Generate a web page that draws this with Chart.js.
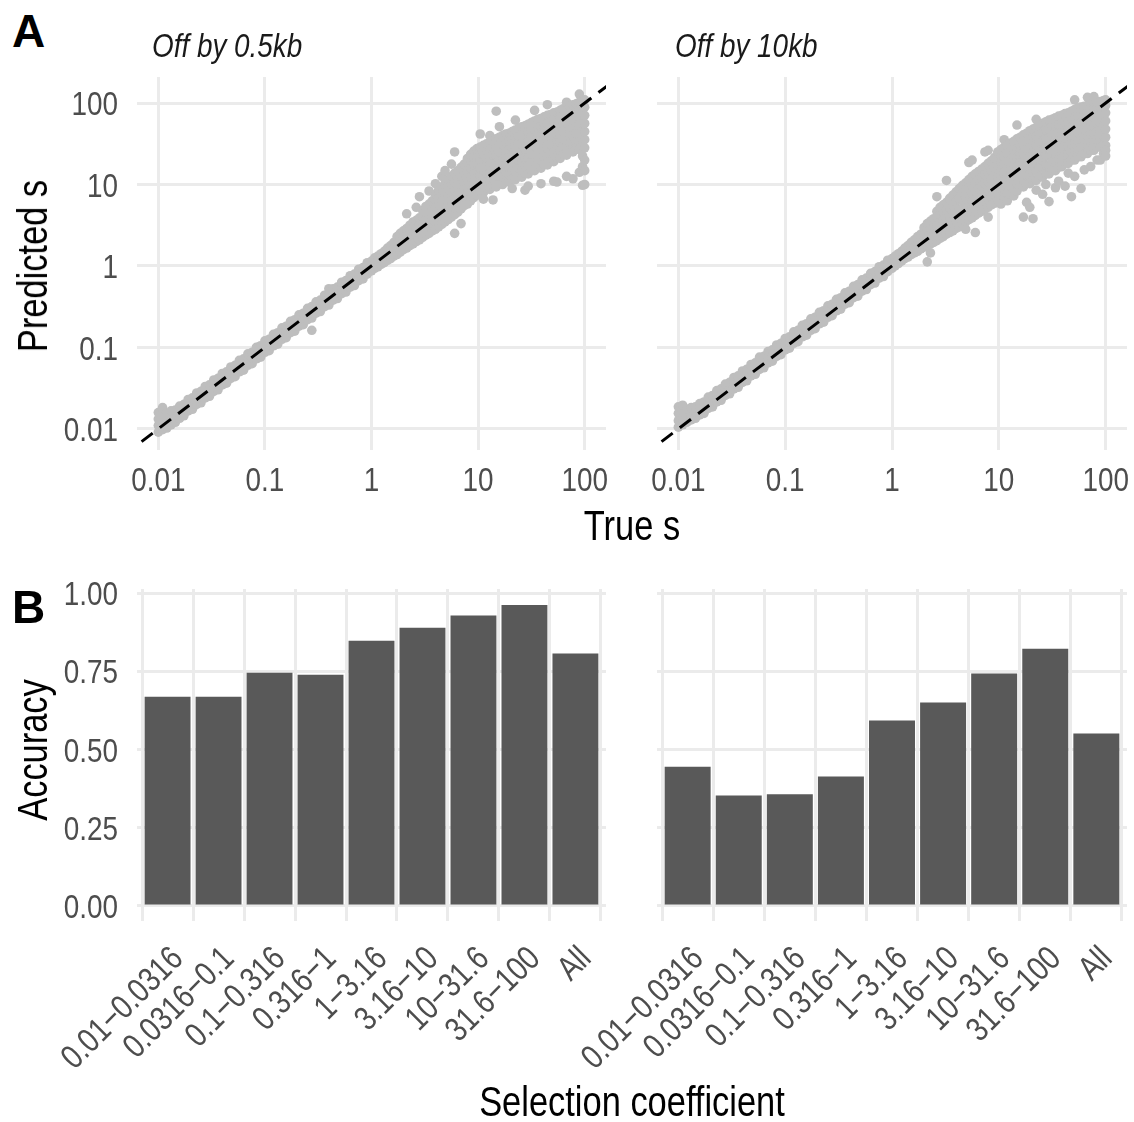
<!DOCTYPE html>
<html>
<head>
<meta charset="utf-8">
<script src="https://cdn.jsdelivr.net/npm/chart.js@4.4.1/dist/chart.umd.min.js"></script>
<style>
  body { margin: 0; background: #fff; width: 1134px; height: 1122px; position: relative; overflow: hidden;
         font-family: "Liberation Sans", Arial, sans-serif; }
  canvas { position: absolute; }
  .t { position: absolute; white-space: nowrap; line-height: 1; color: #000; }
  .tag { font-weight: bold; font-size: 46px; left: 12px; }
  .ttl { font-style: italic; font-size: 34px; color: #1a1a1a; top: 28px; transform-origin: 0 50%; transform: scaleX(0.82); }
  .ax { font-size: 42px; }
</style>
</head>
<body>
<canvas id="scatter05" width="650" height="480" style="left:0;top:60px"></canvas>
<canvas id="scatter10" width="534" height="480" style="left:600px;top:60px"></canvas>
<canvas id="bar05" width="650" height="552" style="left:0;top:570px"></canvas>
<canvas id="bar10" width="614" height="552" style="left:520px;top:570px"></canvas>

<div class="t tag" style="top:8px">A</div>
<div class="t tag" style="top:584px">B</div>
<div class="t ttl" style="left:152px">Off by 0.5kb</div>
<div class="t ttl" style="left:675px">Off by 10kb</div>
<div class="t ax" style="left:632px;top:505px;transform:translateX(-50%) scaleX(0.82)">True s</div>
<div class="t ax" style="left:632px;top:1081px;transform:translateX(-50%) scaleX(0.82)">Selection coefficient</div>
<div class="t ax" style="left:33px;top:266px;transform:translate(-50%,-50%) rotate(-90deg) scaleX(0.82)">Predicted s</div>
<div class="t ax" style="left:33px;top:750px;transform:translate(-50%,-50%) rotate(-90deg) scaleX(0.82)">Accuracy</div>

<script>
// tick labels
const sTicks = [0.01, 0.1, 1, 10, 100];
const accTicks = [0, 0.25, 0.5, 0.75, 1];

// selection coefficient bins (bar categories)
const bins = ['0.01\u22120.0316', '0.0316\u22120.1', '0.1\u22120.316', '0.316\u22121',
  '1\u22123.16', '3.16\u221210', '10\u221231.6', '31.6\u2212100', 'All'];

// accuracy per bin
const acc05 = [0.669, 0.669, 0.745, 0.739, 0.848, 0.889, 0.928, 0.962, 0.807];
const acc10 = [0.445, 0.353, 0.357, 0.414, 0.593, 0.650, 0.743, 0.822, 0.551];

// scatter points, one row per true s:
// [log10 true s, log10 predicted s, log10 predicted s, ...]
const rows05 = [
  [-2.00,-2.04,-1.96,-1.88,-1.80],[-1.96,-2.01,-1.92,-1.83,-1.74],[-1.92,-1.99,-1.90,-1.81],[-1.88,-1.95,-1.87,-1.78],
  [-1.84,-1.92,-1.84,-1.77],[-1.80,-1.87,-1.80,-1.72],[-1.76,-1.84,-1.77,-1.70],[-1.72,-1.78,-1.71,-1.64],
  [-1.68,-1.76,-1.69,-1.62],[-1.64,-1.70,-1.63,-1.56],[-1.60,-1.68,-1.61,-1.54],[-1.56,-1.62,-1.55,-1.48],
  [-1.52,-1.60,-1.53,-1.46],[-1.48,-1.54,-1.47,-1.40],[-1.44,-1.52,-1.45,-1.38],[-1.40,-1.46,-1.39,-1.32],
  [-1.36,-1.44,-1.37,-1.30],[-1.32,-1.38,-1.31,-1.24],[-1.28,-1.36,-1.29,-1.22],[-1.24,-1.30,-1.23,-1.16],
  [-1.20,-1.28,-1.21,-1.14],[-1.16,-1.22,-1.15,-1.08],[-1.12,-1.20,-1.13,-1.06],[-1.08,-1.14,-1.07,-1.00],
  [-1.04,-1.12,-1.05,-0.98],[-1.00,-1.06,-0.99,-0.92],[-0.96,-1.04,-0.97,-0.90],[-0.92,-0.98,-0.91,-0.84],
  [-0.88,-0.96,-0.89,-0.82],[-0.84,-0.90,-0.83,-0.76],[-0.80,-0.88,-0.81,-0.74],[-0.76,-0.82,-0.75,-0.68],
  [-0.72,-0.80,-0.73,-0.66],[-0.68,-0.74,-0.67,-0.60],[-0.64,-0.72,-0.65,-0.58],[-0.60,-0.66,-0.59,-0.52],
  [-0.56,-0.64,-0.57,-0.50,-0.79],[-0.52,-0.58,-0.51,-0.44],[-0.48,-0.56,-0.49,-0.42],[-0.44,-0.50,-0.43,-0.36],
  [-0.40,-0.48,-0.41,-0.34,-0.28],[-0.36,-0.42,-0.35,-0.28],[-0.32,-0.40,-0.33,-0.26],[-0.28,-0.34,-0.27,-0.20],
  [-0.24,-0.32,-0.25,-0.18],[-0.20,-0.26,-0.19,-0.12],[-0.16,-0.24,-0.17,-0.10],[-0.12,-0.18,-0.11,-0.04],
  [-0.08,-0.16,-0.09,-0.02],[-0.04,-0.10,-0.03,0.04],
  [0.00,-0.06,0.00,0.06],[0.03,-0.03,0.04,0.10],[0.06,-0.01,0.06,0.12],[0.09,0.02,0.09,0.15],[0.12,0.04,0.11,0.18],
  [0.15,0.07,0.14,0.22],[0.18,0.09,0.17,0.25],[0.21,0.12,0.20,0.29],[0.24,0.14,0.22,0.30,0.36],
  [0.27,0.17,0.25,0.33,0.40],[0.30,0.20,0.28,0.36,0.43],[0.33,0.22,0.30,0.38,0.46,0.64],[0.36,0.25,0.33,0.42,0.50],
  [0.39,0.27,0.36,0.45,0.54],[0.42,0.30,0.38,0.47,0.56,0.72],[0.45,0.32,0.41,0.50,0.59,0.85],
  [0.48,0.35,0.43,0.52,0.61,0.68],[0.51,0.38,0.47,0.56,0.65,0.73],[0.54,0.40,0.49,0.58,0.67,0.76,0.92],
  [0.57,0.43,0.52,0.61,0.70,0.80],[0.60,0.45,0.54,0.63,0.72,0.81,0.88,1.01],[0.63,0.48,0.57,0.66,0.75,0.84,0.93],
  [0.66,0.51,0.60,0.69,0.78,0.87,0.97,1.10],[0.69,0.54,0.63,0.72,0.82,0.91,1.02,1.17],
  [0.72,0.57,0.66,0.76,0.86,0.96,1.06],[0.75,0.60,0.70,0.80,0.90,1.00,1.10,1.25],
  [0.78,0.40,0.63,0.73,0.83,0.93,1.03,1.14,1.40],[0.81,0.66,0.76,0.86,0.96,1.06,1.17],
  [0.84,0.52,0.70,0.80,0.90,1.00,1.10,1.21],[0.87,0.74,0.84,0.94,1.04,1.14,1.25],
  [0.90,0.76,0.86,0.96,1.06,1.16,1.26,1.32],[0.93,0.80,0.90,1.00,1.10,1.20,1.30,1.37],
  [0.96,0.84,0.94,1.04,1.14,1.24,1.34,1.41],
  [0.99,0.87,0.96,1.06,1.15,1.25,1.34,1.44],[1.02,0.92,1.01,1.11,1.20,1.30,1.39,1.46,1.62],
  [1.05,0.90,0.99,1.09,1.18,1.28,1.38,1.48,0.82],[1.08,0.95,1.04,1.14,1.23,1.33,1.42,1.50],
  [1.11,0.94,1.03,1.13,1.23,1.32,1.42,1.52,1.60],[1.14,0.98,1.08,1.17,1.27,1.36,1.46,1.54,0.81],
  [1.17,0.97,1.07,1.16,1.26,1.36,1.46,1.56,1.90],[1.20,1.01,1.11,1.20,1.30,1.40,1.49,1.58,1.71],
  [1.23,1.00,1.10,1.20,1.29,1.39,1.49,1.60],[1.26,1.04,1.14,1.24,1.33,1.43,1.53,1.62],
  [1.29,1.03,1.13,1.23,1.33,1.43,1.53,1.63],[1.32,1.07,1.17,1.27,1.37,1.46,1.56,1.65,0.95],
  [1.35,1.06,1.16,1.26,1.36,1.46,1.57,1.67,1.79],[1.38,1.10,1.20,1.30,1.40,1.50,1.60,1.69],
  [1.41,1.09,1.19,1.29,1.39,1.50,1.60,1.71],[1.44,1.14,1.24,1.34,1.44,1.54,1.64,1.72,0.93],
  [1.47,1.13,1.23,1.33,1.44,1.54,1.64,1.74,0.98],[1.50,1.18,1.28,1.38,1.48,1.58,1.68,1.76],
  [1.53,1.17,1.27,1.37,1.48,1.58,1.68,1.78,1.91],[1.56,1.21,1.31,1.41,1.51,1.61,1.71,1.80],
  [1.59,1.20,1.30,1.40,1.51,1.61,1.71,1.81,1.01],[1.62,1.25,1.35,1.45,1.55,1.65,1.75,1.83],
  [1.65,1.24,1.34,1.45,1.55,1.65,1.75,1.85,1.98],[1.68,1.29,1.39,1.49,1.59,1.69,1.78,1.86],
  [1.71,1.28,1.38,1.48,1.58,1.68,1.78,1.88,1.04],[1.74,1.33,1.43,1.53,1.62,1.72,1.81,1.89,1.03],
  [1.77,1.32,1.42,1.52,1.62,1.72,1.82,1.91],[1.80,1.37,1.47,1.56,1.66,1.75,1.85,1.93],
  [1.83,1.36,1.46,1.56,1.66,1.76,1.86,1.94,2.01,1.10],[1.86,1.41,1.50,1.60,1.69,1.79,1.88,1.96],
  [1.89,1.40,1.50,1.60,1.70,1.80,1.90,1.98,1.07],[1.92,1.44,1.53,1.63,1.72,1.82,1.91,1.99],
  [1.95,1.43,1.53,1.63,1.73,1.83,1.93,2.01,2.11,1.15],[1.98,1.47,1.56,1.66,1.75,1.85,1.94,2.03,0.99,1.22,1.35],
  [2.00,1.45,1.55,1.65,1.75,1.85,1.95,2.04,1.00,1.17,1.30]
];

const rows10 = [
  [-2.00,-1.98,-1.90,-1.81,-1.73],[-1.96,-1.95,-1.87,-1.79,-1.71],[-1.92,-1.92,-1.84,-1.76],[-1.88,-1.89,-1.82,-1.74],
  [-1.84,-1.87,-1.80,-1.73],[-1.80,-1.83,-1.76,-1.69],[-1.76,-1.81,-1.74,-1.67],[-1.72,-1.75,-1.68,-1.61],
  [-1.68,-1.73,-1.66,-1.59],[-1.64,-1.67,-1.60,-1.53],[-1.60,-1.65,-1.58,-1.51],[-1.56,-1.59,-1.52,-1.45],
  [-1.52,-1.57,-1.50,-1.43],[-1.48,-1.51,-1.44,-1.37],[-1.44,-1.49,-1.42,-1.35],[-1.40,-1.43,-1.36,-1.29],
  [-1.36,-1.41,-1.34,-1.27],[-1.32,-1.35,-1.28,-1.21],[-1.28,-1.33,-1.26,-1.19],[-1.24,-1.27,-1.20,-1.12],
  [-1.20,-1.25,-1.18,-1.11],[-1.16,-1.19,-1.12,-1.05],[-1.12,-1.17,-1.10,-1.03],[-1.08,-1.11,-1.04,-0.97],
  [-1.04,-1.09,-1.02,-0.95],[-1.00,-1.03,-0.96,-0.89],[-0.96,-1.01,-0.94,-0.87],[-0.92,-0.95,-0.88,-0.81],
  [-0.88,-0.93,-0.86,-0.79],[-0.84,-0.87,-0.80,-0.73],[-0.80,-0.85,-0.78,-0.71],[-0.76,-0.79,-0.72,-0.65],
  [-0.72,-0.77,-0.70,-0.63],[-0.68,-0.71,-0.64,-0.57],[-0.64,-0.69,-0.62,-0.55],[-0.60,-0.63,-0.56,-0.49],
  [-0.56,-0.61,-0.54,-0.47],[-0.52,-0.55,-0.48,-0.41],[-0.48,-0.53,-0.46,-0.39],[-0.44,-0.47,-0.40,-0.33],
  [-0.40,-0.45,-0.38,-0.31],[-0.36,-0.39,-0.32,-0.25],[-0.32,-0.37,-0.30,-0.23],[-0.28,-0.31,-0.24,-0.17],
  [-0.24,-0.29,-0.22,-0.15],[-0.20,-0.23,-0.16,-0.09],[-0.16,-0.21,-0.14,-0.07],[-0.12,-0.15,-0.08,-0.01],
  [-0.08,-0.13,-0.06,0.01],[-0.04,-0.07,0.00,0.07],
  [0.00,-0.03,0.03,0.09],[0.03,0.00,0.06,0.12],[0.06,0.03,0.09,0.15],[0.09,0.06,0.12,0.18],[0.12,0.09,0.15,0.22],
  [0.15,0.11,0.18,0.25],[0.18,0.14,0.21,0.29],[0.21,0.16,0.24,0.32],[0.24,0.18,0.27,0.36],[0.27,0.21,0.30,0.39],
  [0.30,0.23,0.32,0.42,0.47],[0.33,0.25,0.34,0.44,0.52,0.05],[0.36,0.27,0.36,0.46,0.55,0.16],[0.39,0.29,0.38,0.48,0.58],
  [0.42,0.31,0.40,0.50,0.60,0.67,0.85],[0.45,0.34,0.43,0.53,0.63,0.72],[0.48,0.36,0.46,0.56,0.66,0.75],
  [0.51,0.39,0.49,0.59,0.69,0.78,1.05],[0.54,0.41,0.51,0.61,0.72,0.83],[0.57,0.43,0.53,0.64,0.75,0.87],
  [0.60,0.46,0.56,0.67,0.79,0.91],[0.63,0.48,0.59,0.70,0.82,0.95],[0.66,0.51,0.61,0.71,0.81,0.90,0.99],
  [0.69,0.54,0.64,0.74,0.84,0.93,1.02,0.45],[0.72,0.57,0.67,0.77,0.87,0.96,1.06,1.27],
  [0.75,0.59,0.69,0.79,0.89,0.99,1.10,1.30],[0.78,0.62,0.72,0.82,0.92,1.02,1.13,0.41],
  [0.81,0.65,0.75,0.85,0.95,1.06,1.16],[0.84,0.67,0.78,0.88,0.98,1.09,1.19],
  [0.87,0.70,0.80,0.91,1.01,1.12,1.22,1.40],[0.90,0.60,0.72,0.83,0.94,1.04,1.15,1.26,1.42],
  [0.93,0.75,0.86,0.97,1.07,1.18,1.29],[0.96,0.77,0.88,0.99,1.10,1.21,1.33],
  [0.99,0.80,0.90,1.00,1.10,1.20,1.30,1.40],[1.02,0.86,0.96,1.06,1.16,1.26,1.36,1.43,0.76],
  [1.05,0.84,0.94,1.04,1.14,1.25,1.35,1.46,1.55],[1.08,0.89,0.99,1.09,1.19,1.29,1.39,1.48,0.80],
  [1.11,0.88,0.98,1.08,1.19,1.29,1.40,1.51],[1.14,0.93,1.03,1.13,1.23,1.33,1.43,1.53,0.86],
  [1.17,0.92,1.02,1.13,1.23,1.34,1.45,1.56,1.73],[1.20,0.97,1.07,1.17,1.28,1.38,1.48,1.58],
  [1.23,0.97,1.07,1.18,1.28,1.39,1.50,1.61,0.60],[1.26,1.01,1.11,1.22,1.32,1.43,1.53,1.63,0.78],
  [1.29,1.01,1.11,1.22,1.33,1.44,1.55,1.66,0.72],[1.32,1.05,1.16,1.26,1.37,1.47,1.58,1.68,0.58],
  [1.35,1.05,1.16,1.27,1.38,1.48,1.59,1.70,0.93,1.80],[1.38,1.09,1.20,1.31,1.41,1.52,1.62,1.72],
  [1.41,1.09,1.20,1.31,1.42,1.53,1.64,1.75,0.88],[1.44,1.13,1.24,1.35,1.46,1.56,1.67,1.77,1.00],
  [1.47,1.13,1.24,1.35,1.46,1.57,1.68,1.79,0.79],[1.50,1.17,1.28,1.39,1.50,1.60,1.71,1.80],
  [1.53,1.17,1.28,1.39,1.50,1.61,1.72,1.82,0.96],[1.56,1.21,1.32,1.43,1.53,1.64,1.74,1.84,1.04],
  [1.59,1.22,1.32,1.43,1.54,1.64,1.75,1.85],[1.62,1.26,1.36,1.47,1.57,1.67,1.77,1.87,0.98],
  [1.65,1.26,1.37,1.47,1.58,1.68,1.78,1.88,1.14],[1.68,1.30,1.40,1.50,1.61,1.71,1.81,1.90,0.85],
  [1.71,1.30,1.41,1.51,1.62,1.72,1.82,1.92,2.04,1.10],[1.74,1.34,1.44,1.54,1.65,1.75,1.85,1.94],
  [1.77,1.34,1.45,1.55,1.66,1.76,1.86,1.95,0.95],[1.80,1.38,1.48,1.58,1.68,1.78,1.88,1.96,1.18],
  [1.83,1.38,1.48,1.59,1.69,1.79,1.89,1.97,2.07],[1.86,1.42,1.52,1.62,1.72,1.82,1.91,1.99,1.22],
  [1.89,1.42,1.52,1.62,1.72,1.82,1.92,2.00,2.08],[1.92,1.46,1.55,1.65,1.75,1.84,1.94,2.01,1.30],
  [1.95,1.46,1.56,1.66,1.76,1.86,1.95,2.02,1.30],[1.98,1.49,1.59,1.69,1.78,1.88,1.97,2.03,1.38],
  [2.00,1.48,1.58,1.68,1.78,1.88,1.97,2.04,1.42,1.35]
];

const NARROW = 0.82;            // Liberation Sans squeezed to look like Arial Narrow
const TICK_PX = 34;
const CAP = TICK_PX * 0.716;
const GRID = { color: '#EBEBEB', lineWidth: 3, drawTicks: false };

// tick labels drawn by hand so they can be squeezed horizontally
const narrowTicks = {
  id: 'narrowTicks',
  afterDraw(chart, args, o) {
    const ctx = chart.ctx, ca = chart.chartArea;
    const xs = chart.scales.x, ys = chart.scales.y;
    ctx.save();
    ctx.font = TICK_PX + 'px "Liberation Sans", Arial, sans-serif';
    ctx.fillStyle = '#4D4D4D';
    ctx.textBaseline = 'alphabetic';
    xs.ticks.forEach(t => {
      const px = xs.getPixelForValue(t.value);
      ctx.save();
      if (o.rotate) {
        ctx.translate(px, ca.bottom + o.xGap);
        ctx.rotate(-Math.PI / 4);
        ctx.scale(NARROW, 1);
        ctx.textAlign = 'right';
        ctx.fillText(o.xLabel(t.value), 0, CAP);
      } else {
        ctx.translate(px, ca.bottom + o.xGap + CAP);
        ctx.scale(NARROW, 1);
        ctx.textAlign = 'center';
        ctx.fillText(o.xLabel(t.value), 0, 0);
      }
      ctx.restore();
    });
    if (o.yLabel) {
      ys.ticks.forEach(t => {
        const py = ys.getPixelForValue(t.value);
        ctx.save();
        ctx.translate(ca.left - o.yGap, py + CAP / 2);
        ctx.scale(NARROW, 1);
        ctx.textAlign = 'right';
        ctx.fillText(o.yLabel(t.value), 0, 0);
        ctx.restore();
      });
    }
    ctx.restore();
  }
};

function scatterChart(id, rows, showY, yWidth, padRight) {
  const pts = rows.flatMap(r => r.slice(1).map(y => ({ x: Math.pow(10, r[0]), y: Math.pow(10, y) })));
  new Chart(document.getElementById(id), {
    type: 'scatter',
    data: {
      datasets: [
        { // y = x reference
          type: 'line', showLine: true,
          data: [{ x: Math.pow(10, -2.5), y: Math.pow(10, -2.5) }, { x: Math.pow(10, 2.5), y: Math.pow(10, 2.5) }],
          borderColor: '#000', borderWidth: 3, borderDash: [14, 9], pointRadius: 0, order: 0
        },
        { data: pts, backgroundColor: '#BEBEBE', borderWidth: 0, pointRadius: 4.8, order: 1 }
      ]
    },
    options: {
      responsive: false, animation: false, events: [],
      layout: { padding: { top: 17, right: padRight, left: 0, bottom: 0 } },
      plugins: {
        legend: { display: false }, tooltip: { enabled: false },
        narrowTicks: { xLabel: v => String(v), yLabel: showY ? v => String(v) : null, xGap: 17, yGap: 19 }
      },
      scales: {
        x: {
          type: 'logarithmic', min: Math.pow(10, -2.2), max: Math.pow(10, 2.2),
          afterBuildTicks: s => { s.ticks = sTicks.map(v => ({ value: v })); },
          afterFit: s => { s.height = 90; s.paddingLeft = 0; s.paddingRight = 0; },
          grid: GRID, border: { display: false }, ticks: { display: false }
        },
        y: {
          type: 'logarithmic', min: Math.pow(10, -2.26), max: Math.pow(10, 2.32),
          afterBuildTicks: s => { s.ticks = sTicks.map(v => ({ value: v })); },
          afterFit: s => { s.width = yWidth; s.paddingTop = 0; s.paddingBottom = 0; },
          grid: GRID, border: { display: false }, ticks: { display: false }
        }
      }
    },
    plugins: [narrowTicks]
  });
}

function barChart(id, acc, showY, yWidth, padRight) {
  new Chart(document.getElementById(id), {
    type: 'bar',
    data: {
      datasets: [{
        data: acc.map((v, i) => ({ x: i + 1, y: v })),
        backgroundColor: '#595959', barPercentage: 0.9, categoryPercentage: 1
      }]
    },
    options: {
      responsive: false, animation: false, events: [],
      layout: { padding: { top: 19, right: padRight, left: 0, bottom: 0 } },
      plugins: {
        legend: { display: false }, tooltip: { enabled: false },
        narrowTicks: { rotate: true, xLabel: v => bins[Math.round(v) - 1],
                       yLabel: showY ? v => v.toFixed(2) : null, xGap: 22, yGap: 19 }
      },
      scales: {
        x: {
          type: 'linear', min: 0.4, max: 9.6, offset: false,
          afterBuildTicks: s => { s.ticks = bins.map((b, i) => ({ value: i + 1 })); },
          afterFit: s => { s.height = 201; s.paddingLeft = 0; s.paddingRight = 0; },
          grid: GRID, border: { display: false }, ticks: { display: false }
        },
        y: {
          min: -0.048, max: 1.013,
          afterBuildTicks: s => { s.ticks = accTicks.map(v => ({ value: v })); },
          afterFit: s => { s.width = yWidth; s.paddingTop = 0; s.paddingBottom = 0; },
          grid: GRID, border: { display: false }, ticks: { display: false }
        }
      }
    },
    plugins: [narrowTicks]
  });
}

scatterChart('scatter05', rows05, true, 137, 44);
scatterChart('scatter10', rows10, false, 57, 7);
barChart('bar05', acc05, true, 137, 44);
barChart('bar10', acc10, false, 137, 7);
</script>
</body>
</html>
